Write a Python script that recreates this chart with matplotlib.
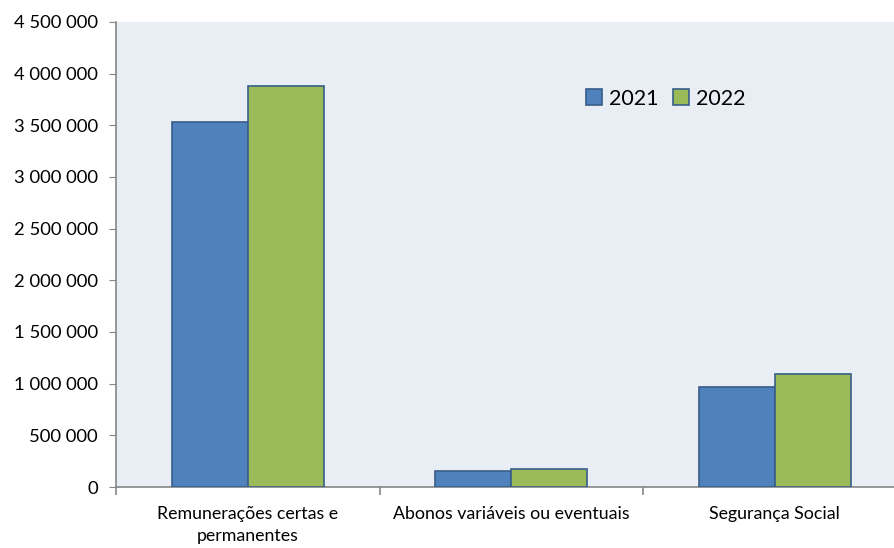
import numpy as np
import matplotlib
matplotlib.use("Agg")
import matplotlib.pyplot as plt
from matplotlib.ticker import FuncFormatter

categories = ['Remunerações certas e\npermanentes', 'Abonos variáveis ou eventuais', 'Segurança Social']
years = ['2021', '2022']
values_2021 = [3532000, 158000, 968000]
values_2022 = [3881000, 171000, 1094000]

plt.rcParams['font.family'] = ['Lato', 'DejaVu Sans']

fig = plt.figure(figsize=(8.94, 5.48), dpi=100)
ax = fig.add_axes([0.1298, 0.1113, 0.8842, 0.8486])
ax.set_facecolor('#E9EDF4')

x = np.arange(len(categories))
w = 0.288
ax.bar(x - w / 2, values_2021, w, color='#4F81BD', edgecolor='#385D8A', linewidth=1.2, label=years[0], zorder=3)
ax.bar(x + w / 2, values_2022, w, color='#9BBB59', edgecolor='#385D8A', linewidth=1.2, label=years[1], zorder=3)

ax.set_xlim(-0.5, 2.5)
ax.set_ylim(0, 4500000)
ax.set_yticks(np.arange(0, 4500001, 500000))
ax.yaxis.set_major_formatter(FuncFormatter(lambda v, p: '{:,.0f}'.format(v).replace(',', ' ')))
ax.set_xticks([-0.5, 0.5, 1.5, 2.5], minor=True)

for s in ['top', 'right']:
    ax.spines[s].set_visible(False)
for s in ['left', 'bottom']:
    ax.spines[s].set_color('#868686')
    ax.spines[s].set_linewidth(1.2)

ax.tick_params(axis='y', length=5, color='#868686', labelsize=13.3, pad=8)
ax.tick_params(axis='x', which='major', length=0, labelsize=12.8, pad=14)
ax.tick_params(axis='x', which='minor', length=6, color='#868686', width=1.2)

ax.set_xticks(x)
ax.set_xticklabels(categories, ha='center', ma='center', linespacing=1.45)

ax.legend(loc='center left', bbox_to_anchor=(0.570, 0.835), ncol=2, frameon=False,
          fontsize=15.5, handlelength=0.75, handleheight=0.75, handletextpad=0.3, columnspacing=0.7)

fig.savefig('out.png', dpi=100)
